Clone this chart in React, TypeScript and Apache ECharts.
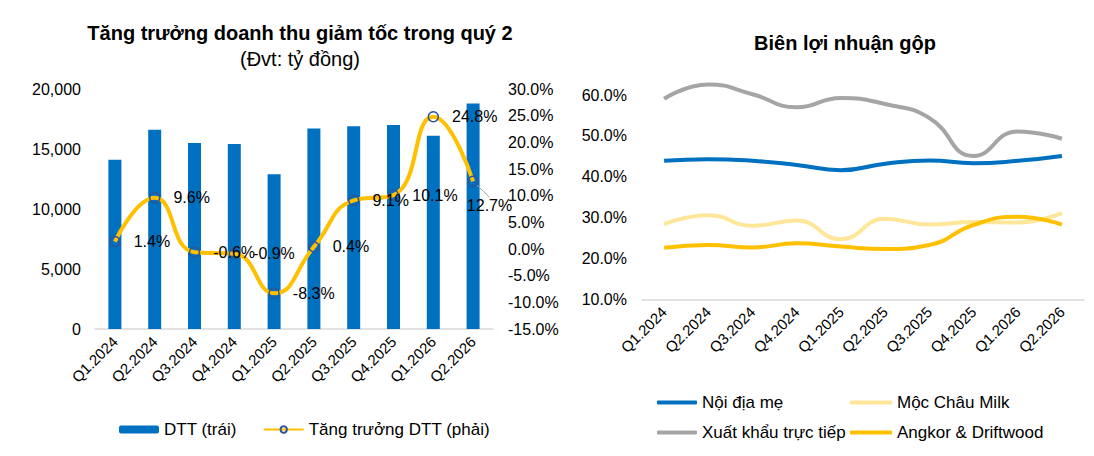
import React, { useEffect, useRef } from "react";
import * as echarts from "echarts";

const categories = ["Q1.2024", "Q2.2024", "Q3.2024", "Q4.2024", "Q1.2025", "Q2.2025", "Q3.2025", "Q4.2025", "Q1.2026", "Q2.2026"];
const revenue = [14100, 16600, 15500, 15420, 12900, 16700, 16900, 17000, 16100, 18800];
const revenueGrowth = [1.4, 9.6, -0.6, -0.9, -8.3, 0.4, 9.1, 10.1, 24.8, 12.7];

const noiDiaMe = [43.9, 44.3, 43.9, 42.9, 41.6, 43.2, 44.0, 43.3, 43.9, 45.1];
const mocChauMilk = [28.4, 30.6, 28.0, 29.3, 24.7, 29.7, 28.3, 28.9, 28.8, 31.1];
const xuatKhau = [59.1, 62.6, 60.2, 57.0, 59.3, 57.8, 54.4, 45.1, 51.1, 49.3];
const angkor = [22.6, 23.3, 22.7, 23.7, 22.9, 22.3, 23.3, 28.2, 30.2, 28.3];

const leftAxisTicks = { min: 0, max: 20000, interval: 5000 };
const rightAxisTicks = { min: -15, max: 30, interval: 5 };
const marginTicks = { min: 10, max: 65, interval: 10 };

const FONT = "Liberation Sans, Arial, sans-serif";

export default function App() {
  const ref = useRef<HTMLDivElement>(null);
  useEffect(() => {
    if (!ref.current) return;
    const chart = echarts.init(ref.current, undefined, { renderer: "svg" });
    const txt = { color: "#000", fontFamily: FONT, fontSize: 16 };
    const legendTxt = { color: "#000", fontFamily: FONT, fontSize: 17, lineHeight: 17 };
    const option: any = {
      animation: false,
      textStyle: { fontFamily: FONT, color: "#000" },
      title: [
        {
          text: "Tăng trưởng doanh thu giảm tốc trong quý 2",
          subtext: "(Đvt: tỷ đồng)",
          left: 295,
          top: 17,
          textAlign: "center",
          itemGap: 4,
          textStyle: { fontFamily: FONT, fontSize: 20, fontWeight: "bold", color: "#000", lineHeight: 22 },
          subtextStyle: { fontFamily: FONT, fontSize: 20, color: "#000", lineHeight: 22 },
        },
        {
          text: "Biên lợi nhuận gộp",
          left: 840,
          top: 27,
          textAlign: "center",
          textStyle: { fontFamily: FONT, fontSize: 20, fontWeight: "bold", color: "#000", lineHeight: 22 },
        },
      ],
      legend: [
        {
          data: ["DTT (trái)", "Tăng trưởng DTT (phải)"],
          left: 114,
          top: 416,
          itemWidth: 40,
          itemHeight: 8,
          itemGap: 26,
          textStyle: legendTxt,
        },
        {
          data: ["Nội địa mẹ", "Xuất khẩu trực tiếp"],
          orient: "vertical",
          left: 652,
          top: 389,
          icon: "roundRect",
          itemWidth: 40,
          itemHeight: 4,
          itemGap: 13,
          textStyle: legendTxt,
        },
        {
          data: ["Mộc Châu Milk", "Angkor & Driftwood"],
          orient: "vertical",
          left: 845,
          top: 389,
          icon: "roundRect",
          itemWidth: 42,
          itemHeight: 4,
          itemGap: 13,
          textStyle: legendTxt,
        },
      ],
      grid: [
        { left: 95, top: 89, width: 398, height: 240 },
        { left: 642, top: 74.6, width: 442, height: 224.7 },
      ],
      xAxis: [
        {
          type: "category",
          gridIndex: 0,
          data: categories,
          axisLine: { lineStyle: { color: "#D9D9D9", width: 1.5 } },
          axisTick: { show: false },
          axisLabel: { ...txt, fontSize: 15, rotate: 45, margin: 10, interval: 0 },
        },
        {
          type: "category",
          gridIndex: 1,
          data: categories,
          axisLine: { lineStyle: { color: "#D9D9D9", width: 1.5 } },
          axisTick: { show: false },
          axisLabel: { ...txt, fontSize: 15, rotate: 45, margin: 10, interval: 0 },
        },
      ],
      yAxis: [
        {
          type: "value",
          gridIndex: 0,
          ...leftAxisTicks,
          splitLine: { show: false },
          axisLine: { show: false },
          axisTick: { show: false },
          axisLabel: {
            ...txt,
            margin: 14,
            formatter: (v: number) => v.toLocaleString("en-US"),
          },
        },
        {
          type: "value",
          gridIndex: 0,
          position: "right",
          ...rightAxisTicks,
          splitLine: { show: false },
          axisLine: { show: false },
          axisTick: { show: false },
          axisLabel: { ...txt, margin: 15, formatter: (v: number) => v.toFixed(1) + "%" },
        },
        {
          type: "value",
          gridIndex: 1,
          ...marginTicks,
          splitLine: { show: false },
          axisLine: { show: false },
          axisTick: { show: false },
          axisLabel: {
            ...txt,
            margin: 15,
            formatter: (v: number) => (Math.round(v) % 10 === 0 ? v.toFixed(1) + "%" : ""),
          },
        },
      ],
      series: [
        {
          name: "DTT (trái)",
          type: "bar",
          xAxisIndex: 0,
          yAxisIndex: 0,
          data: revenue,
          barWidth: 13,
          itemStyle: { color: "#0070C0" },
        },
        {
          name: "Tăng trưởng DTT (phải)",
          type: "line",
          xAxisIndex: 0,
          yAxisIndex: 1,
          smooth: 0.5,
          data: revenueGrowth.map((v, i) =>
            i === revenueGrowth.length - 1
              ? { value: v, labelLine: { show: true, lineStyle: { color: "#A6A6A6", width: 1 } } }
              : v
          ),
          symbol: "circle",
          symbolSize: 10,
          lineStyle: { color: "#FFC000", width: 4 },
          itemStyle: { color: "rgba(255,192,0,0)", borderColor: "#2F5597", borderWidth: 1.5 },
          label: {
            show: true,
            position: "right",
            distance: 13,
            ...txt,
            formatter: (p: any) => Number(p.value).toFixed(1) + "%",
          },
          labelLayout: (p: any) => (p.dataIndex === revenueGrowth.length - 1 ? { dx: -25, dy: 24 } : {}),
          z: 3,
        },
        {
          name: "Nội địa mẹ",
          type: "line",
          xAxisIndex: 1,
          yAxisIndex: 2,
          smooth: 0.5,
          symbol: "none",
          data: noiDiaMe,
          lineStyle: { color: "#0070C0", width: 4 },
          itemStyle: { color: "#0070C0" },
        },
        {
          name: "Mộc Châu Milk",
          type: "line",
          xAxisIndex: 1,
          yAxisIndex: 2,
          smooth: 0.5,
          symbol: "none",
          data: mocChauMilk,
          lineStyle: { color: "#FFE699", width: 4 },
          itemStyle: { color: "#FFE699" },
        },
        {
          name: "Xuất khẩu trực tiếp",
          type: "line",
          xAxisIndex: 1,
          yAxisIndex: 2,
          smooth: 0.5,
          symbol: "none",
          data: xuatKhau,
          lineStyle: { color: "#A5A5A5", width: 4 },
          itemStyle: { color: "#A5A5A5" },
        },
        {
          name: "Angkor & Driftwood",
          type: "line",
          xAxisIndex: 1,
          yAxisIndex: 2,
          smooth: 0.5,
          symbol: "none",
          data: angkor,
          lineStyle: { color: "#FFC000", width: 4 },
          itemStyle: { color: "#FFC000" },
        },
      ],
    };
    chart.setOption(option);
    return () => chart.dispose();
  }, []);
  return (
    <div
      ref={ref}
      style={{ position: "fixed", left: 0, top: 0, width: 1094, height: 456, background: "#fff" }}
    />
  );
}
